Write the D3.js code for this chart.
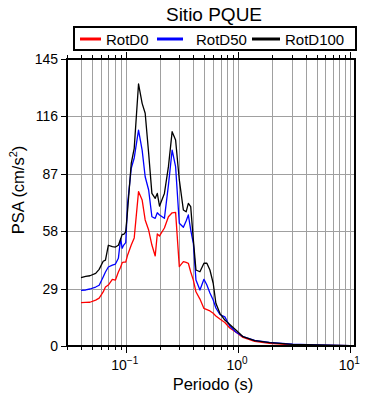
<!DOCTYPE html>
<html>
<head>
<meta charset="utf-8">
<script src="https://cdn.jsdelivr.net/npm/d3@7"></script>
<style>
  body { margin: 0; background: #fff; }
  svg { display: block; font-family: "Liberation Sans", Arial, sans-serif; }
</style>
</head>
<body>
<svg id="chart" width="390" height="400"></svg>
<script>
// periodos (s)
const periods = [0.04, 0.044, 0.048, 0.054, 0.058, 0.063, 0.066, 0.07, 0.076, 0.081,
  0.086, 0.09, 0.093, 0.096, 0.1, 0.104, 0.112, 0.119, 0.13, 0.14,
  0.149, 0.16, 0.171, 0.183, 0.191, 0.2, 0.221, 0.24, 0.259, 0.278,
  0.3, 0.326, 0.345, 0.361, 0.379, 0.4, 0.422, 0.458, 0.497, 0.528,
  0.562, 0.601, 0.635, 0.689, 0.763, 0.844, 0.968, 1.107, 1.405, 1.908,
  3.05, 4.97, 10];

// PSA (cm/s2) para cada componente
const rotD0 = [21.9, 22.0, 22.1, 23.2, 24.2, 27.3, 29.8, 30.8, 33.7, 33.3,
  37.4, 39.8, 42.1, 42.4, 42.4, 46.0, 51.0, 54.6, 78.0, 73.8,
  63.7, 58.6, 51.0, 45.5, 56.6, 55.6, 59.6, 65.3, 67.3, 67.5,
  40.1, 42.6, 42.2, 41.8, 37.4, 33.3, 27.4, 23.7, 19.0, 18.4,
  17.7, 16.5, 15.2, 13.6, 11.9, 9.1, 6.8, 4.3, 2.3, 1.3,
  0.6, 0.35, 0.15];
const rotD50 = [28.1, 28.3, 28.8, 29.8, 30.7, 34.9, 37.4, 39.9, 40.9, 41.4,
  44.3, 54.2, 49.4, 51.0, 52.2, 72.1, 89.8, 95.0, 109.1, 99.0,
  85.5, 78.8, 65.3, 64.5, 67.3, 66.2, 64.5, 81.3, 99.0, 90.6,
  62.0, 60.0, 63.2, 66.2, 58.6, 51.9, 33.3, 28.3, 33.7, 30.8,
  26.8, 23.2, 19.2, 15.9, 14.7, 10.1, 6.8, 4.8, 2.8, 1.8,
  0.9, 0.5, 0.2];
const rotD100 = [34.5, 35.2, 35.5, 36.7, 38.7, 42.8, 43.4, 50.9, 50.2, 50.0,
  50.9, 53.9, 56.4, 56.4, 57.7, 68.7, 92.3, 99.9, 132.4, 122.6,
  117.6, 97.4, 77.1, 74.6, 77.1, 70.7, 77.1, 90.6, 108.3, 104.1,
  83.9, 68.7, 67.8, 72.1, 70.4, 53.6, 38.4, 37.5, 41.8, 41.8,
  38.4, 31.7, 21.6, 16.5, 13.1, 10.9, 7.8, 4.7, 2.7, 1.7,
  0.86, 0.5, 0.15];

const seriesNames = ["RotD0", "RotD50", "RotD100"];
const seriesColors = ["#ff0000", "#0000ff", "#000000"];
const yTicks = [0, 29, 58, 87, 116, 145];
const xMajor = [0.1, 1, 10];

const svg = d3.select("#chart");

// area del grafico
const plotLeft = 67, plotRight = 355, plotTop = 59, plotBottom = 346;

const xScale = d3.scaleLog().domain([0.03, 11]).range([plotLeft, plotRight]);
const yScale = d3.scaleLinear().domain([0, 145]).range([plotBottom, plotTop]);

// todas las marcas logaritmicas (1..9 de cada decada)
let xMinor = [];
for (let d = -2; d <= 1; d++) {
  for (let k = 1; k <= 9; k++) {
    let v = +(k * Math.pow(10, d)).toPrecision(3);
    if (v >= 0.03 && v <= 11) xMinor.push(v);
  }
}

// rejilla
const grid = svg.append("g").attr("stroke", "#a0a0a0").attr("stroke-width", 1);
xMinor.forEach(v => {
  let x = Math.round(xScale(v)) + 0.5;
  grid.append("line").attr("x1", x).attr("x2", x).attr("y1", plotTop).attr("y2", plotBottom);
});
yTicks.forEach(v => {
  let y = Math.round(yScale(v)) + 0.5;
  grid.append("line").attr("x1", plotLeft).attr("x2", plotRight).attr("y1", y).attr("y2", y);
});

// curvas
const line = d3.line().x(d => xScale(d[0])).y(d => yScale(d[1]));
[rotD0, rotD50, rotD100].forEach((vals, i) => {
  svg.append("path")
    .datum(periods.map((p, j) => [p, vals[j]]))
    .attr("d", line)
    .attr("fill", "none")
    .attr("stroke", seriesColors[i])
    .attr("stroke-width", 1.3)
    .attr("stroke-linejoin", "round");
});

// marco
svg.append("rect").attr("x", plotLeft).attr("y", plotTop)
  .attr("width", plotRight - plotLeft).attr("height", plotBottom - plotTop)
  .attr("fill", "none").attr("stroke", "#000").attr("stroke-width", 2);

// marcas de los ejes
const ticks = svg.append("g").attr("stroke", "#000").attr("stroke-width", 1);
xMinor.forEach(v => {
  let x = Math.round(xScale(v)) + 0.5;
  let len = xMajor.includes(v) ? 6 : 3;
  ticks.append("line").attr("x1", x).attr("x2", x).attr("y1", plotTop - 1).attr("y2", plotTop - 1 - len);
  ticks.append("line").attr("x1", x).attr("x2", x).attr("y1", plotBottom + 1).attr("y2", plotBottom + 1 + len);
});
yTicks.forEach(v => {
  let y = Math.round(yScale(v)) + 0.5;
  ticks.append("line").attr("x1", plotLeft - 1).attr("x2", plotLeft - 6).attr("y1", y).attr("y2", y);
});

// etiquetas del eje y
yTicks.forEach(v => {
  svg.append("text").attr("x", plotLeft - 9).attr("y", yScale(v) + 5)
    .attr("text-anchor", "end").attr("font-size", 14).text(v);
});

// etiquetas del eje x (10^n)
xMajor.forEach(v => {
  let t = svg.append("text").attr("x", xScale(v) - 1).attr("y", 370)
    .attr("text-anchor", "middle").attr("font-size", 14);
  t.append("tspan").text("10");
  t.append("tspan").attr("dy", -6).attr("font-size", 10).text(Math.round(Math.log10(v)).toString().replace("-", "\u2212"));
});

// titulos
svg.append("text").attr("x", 214).attr("y", 21).attr("text-anchor", "middle")
  .attr("font-size", 19).text("Sitio PQUE");
svg.append("text").attr("x", 213).attr("y", 390).attr("text-anchor", "middle")
  .attr("font-size", 16.5).text("Periodo (s)");
const yl = svg.append("text").attr("transform", "translate(24,190) rotate(-90)")
  .attr("text-anchor", "middle").attr("font-size", 16.5);
yl.append("tspan").text("PSA (cm/s");
yl.append("tspan").attr("dy", -7).attr("font-size", 11).text("2");
yl.append("tspan").attr("dy", 7).text(")");

// leyenda
svg.append("rect").attr("x", 74).attr("y", 27).attr("width", 282).attr("height", 23)
  .attr("fill", "#fff").attr("stroke", "#000").attr("stroke-width", 2);
const legX = [[80, 101, 106], [157, 183, 196], [252, 280, 285]];
seriesNames.forEach((n, i) => {
  svg.append("line").attr("x1", legX[i][0]).attr("x2", legX[i][1]).attr("y1", 39).attr("y2", 39)
    .attr("stroke", seriesColors[i]).attr("stroke-width", 3);
  svg.append("text").attr("x", legX[i][2]).attr("y", 44.5).attr("font-size", 15).text(n);
});
</script>
</body>
</html>
